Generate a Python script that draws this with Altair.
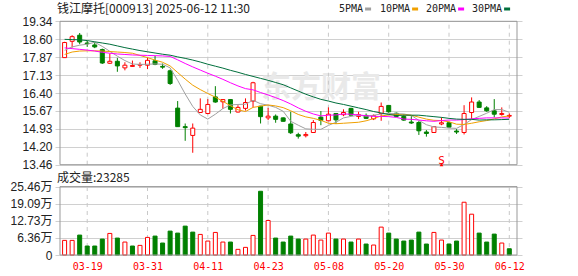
import altair as alt
import pandas as pd

# ---------------- data ----------------
dates = ["03-14","03-17","03-18","03-19","03-20","03-21","03-24","03-25","03-26","03-27","03-28","03-31",
         "04-01","04-02","04-03","04-07","04-08","04-09","04-10","04-11","04-14","04-15","04-16","04-17","04-18",
         "04-21","04-22","04-23","04-24","04-25","04-28","04-29","04-30","05-06","05-07","05-08","05-09",
         "05-12","05-13","05-14","05-15","05-16","05-19","05-20","05-21","05-22","05-23","05-26","05-27",
         "05-28","05-29","05-30","06-03","06-04","06-05","06-06","06-09","06-10","06-11","06-12"]

opens = [17.85, 18.52, 18.77, 18.45, 18.37, 18.18, 17.62, 17.70, 17.43, 17.49,
         17.54, 17.54, 17.72, 17.49, 17.31, 15.78, 15.02, 14.66, 15.60, 15.56,
         16.24, 16.04, 16.13, 15.62, 15.77, 16.07, 15.86, 15.38, 15.45, 15.38,
         15.13, 14.69, 14.65, 14.78, 15.41, 15.26, 15.56, 15.51, 15.77, 15.44,
         15.48, 15.34, 15.56, 15.89, 15.57, 15.44, 15.21, 15.19, 14.80, 14.78,
         15.13, 15.18, 14.84, 14.78, 15.60, 16.03, 15.79, 15.67, 15.52, 15.45]
highs = [18.50, 18.77, 18.86, 18.54, 18.48, 18.22, 18.02, 17.84, 17.66, 17.73,
         17.66, 17.85, 17.92, 17.61, 17.36, 16.07, 15.15, 15.15, 16.18, 16.15,
         16.68, 16.14, 16.14, 15.90, 16.18, 16.86, 15.87, 15.79, 15.52, 15.40,
         15.63, 14.77, 14.80, 15.29, 15.66, 15.81, 15.57, 15.73, 15.79, 15.63,
         15.56, 15.52, 16.01, 15.89, 15.60, 15.52, 15.45, 15.25, 14.88, 15.04,
         15.40, 15.22, 14.92, 15.90, 16.22, 16.11, 15.86, 16.15, 15.81, 15.56]
lows = [17.84, 18.26, 18.40, 18.29, 18.24, 17.59, 17.59, 17.27, 17.33, 17.48,
        17.43, 17.38, 17.54, 17.39, 16.73, 15.02, 14.44, 13.95, 15.59, 15.53,
        16.00, 15.75, 15.56, 15.60, 15.68, 15.81, 15.15, 15.29, 15.18, 15.23,
        14.72, 14.53, 14.58, 14.78, 15.08, 15.25, 15.13, 15.45, 15.48, 15.33,
        15.33, 15.29, 15.26, 15.59, 15.42, 15.26, 15.13, 14.68, 14.61, 14.77,
        15.08, 14.98, 14.72, 14.70, 15.34, 15.79, 15.63, 15.40, 15.47, 15.37]
closes = [18.47, 18.71, 18.49, 18.42, 18.29, 17.63, 17.70, 17.51, 17.54, 17.53,
          17.57, 17.74, 17.57, 17.46, 16.79, 15.02, 14.98, 14.96, 15.73, 15.93,
          16.03, 16.13, 15.73, 15.81, 16.01, 16.82, 15.43, 15.45, 15.32, 15.24,
          14.77, 14.63, 14.70, 15.19, 15.28, 15.53, 15.30, 15.60, 15.49, 15.51,
          15.36, 15.47, 15.85, 15.63, 15.44, 15.29, 15.17, 14.85, 14.74, 15.02,
          15.18, 15.00, 14.80, 15.56, 16.03, 15.81, 15.67, 15.53, 15.56, 15.48]

ma5 = [18.15, 18.29, 18.36, 18.40, 18.48, 18.31, 18.11, 17.91, 17.73, 17.59,
       17.57, 17.58, 17.59, 17.58, 17.43, 16.92, 16.36, 15.85, 15.50, 15.33,
       15.53, 15.76, 15.91, 15.93, 15.94, 16.10, 15.96, 15.90, 15.81, 15.65,
       15.24, 15.08, 14.93, 14.91, 14.91, 15.07, 15.20, 15.38, 15.44, 15.49,
       15.45, 15.49, 15.54, 15.56, 15.55, 15.54, 15.48, 15.28, 15.10, 15.01,
       14.99, 14.96, 14.95, 15.11, 15.31, 15.44, 15.57, 15.72, 15.72, 15.61]
ma10 = [17.98, 18.08, 18.12, 18.13, 18.13, 18.12, 18.10, 18.08, 18.06, 18.03,
        17.94, 17.85, 17.75, 17.66, 17.51, 17.24, 16.97, 16.72, 16.54, 16.38,
        16.23, 16.06, 15.88, 15.71, 15.64, 15.81, 15.86, 15.91, 15.87, 15.80,
        15.67, 15.52, 15.42, 15.36, 15.28, 15.16, 15.14, 15.16, 15.18, 15.20,
        15.26, 15.35, 15.46, 15.50, 15.52, 15.50, 15.49, 15.41, 15.33, 15.28,
        15.27, 15.22, 15.12, 15.11, 15.16, 15.22, 15.27, 15.34, 15.42, 15.46]
ma20 = [18.25, 18.22, 18.19, 18.16, 18.12, 18.07, 18.03, 18.00, 17.98, 17.96,
        17.95, 17.94, 17.93, 17.92, 17.90, 17.76, 17.61, 17.47, 17.34, 17.21,
        17.09, 16.96, 16.82, 16.69, 16.58, 16.53, 16.42, 16.32, 16.21, 16.09,
        15.95, 15.79, 15.65, 15.54, 15.46, 15.49, 15.50, 15.54, 15.53, 15.50,
        15.47, 15.44, 15.44, 15.43, 15.40, 15.33, 15.32, 15.29, 15.26, 15.24,
        15.27, 15.29, 15.29, 15.31, 15.34, 15.36, 15.38, 15.38, 15.38, 15.37]
ma30 = [18.60, 18.59, 18.58, 18.55, 18.50, 18.45, 18.40, 18.33, 18.26, 18.20,
        18.14, 18.09, 18.04, 17.99, 17.95, 17.88, 17.82, 17.75, 17.67, 17.58,
        17.50, 17.42, 17.33, 17.25, 17.16, 17.08, 17.00, 16.92, 16.83, 16.74,
        16.61, 16.48, 16.35, 16.24, 16.14, 16.07, 15.99, 15.93, 15.86, 15.79,
        15.72, 15.64, 15.58, 15.52, 15.48, 15.49, 15.49, 15.49, 15.46, 15.43,
        15.40, 15.36, 15.33, 15.32, 15.32, 15.29, 15.30, 15.30, 15.31, 15.32]

# volume in 万 (10k shares)
volumes = [5.44, 5.44, 7.41, 3.34, 3.34, 5.93, 8.03, 6.30, 4.82, 3.34,
           3.58, 6.55, 7.04, 4.45, 8.89, 8.15, 10.75, 8.52, 7.66, 5.19,
           8.40, 4.82, 4.82, 2.10, 2.84, 7.29, 23.72, 12.85, 6.30, 4.82,
           7.04, 5.93, 5.93, 7.41, 5.56, 8.15, 5.93, 5.93, 4.82, 5.93,
           4.08, 3.71, 10.38, 8.15, 5.93, 5.19, 5.56, 8.52, 4.08, 8.40,
           5.56, 4.08, 5.19, 19.64, 15.19, 8.15, 4.82, 7.78, 4.45, 2.33]
vol_dir = ["up","up","down","down","down","down","up","down","up","down",
           "up","up","down","down","down","down","down","down","up","up",
           "up","up","down","up","up","up","down","up","down","down",
           "down","down","up","up","up","up","down","up","down","up",
           "down","up","up","down","down","down","down","down","down","up",
           "up","down","down","up","up","down","down","down","up","down"]

ma_names = ["5PMA", "10PMA", "20PMA", "30PMA"]
ma_colors = ["#a0a0a0", "#f0a000", "#ff00ff", "#006f3c"]

tick_dates = ["03-19", "03-31", "04-11", "04-23", "05-08", "05-20", "05-30", "06-12"]
price_ticks = [13.46, 14.20, 14.93, 15.67, 16.40, 17.13, 17.87, 18.60, 19.34]
vol_ticks = [0, 6.36, 12.73, 19.09, 25.46]

title_text = "钱江摩托[000913] 2025-06-12 11:30"
vol_title = "成交量:23285"
signal_idx = [dates.index("05-29")]
signal_txt = ["S"]

# ---------------- tables ----------------
n = len(dates)
idx = list(range(n))
df = pd.DataFrame({"i": idx, "open": opens, "high": highs, "low": lows, "close": closes,
                   "vol": volumes, "vdir": vol_dir})
df["dir"] = ["up" if c >= o else "down" for o, c in zip(opens, closes)]

ma_df = pd.concat([pd.DataFrame({"i": idx, "v": vals, "ma": name})
                   for name, vals in zip(ma_names, [ma5, ma10, ma20, ma30])])

tick_idx = [dates.index(d) for d in tick_dates]
pmin, pmax = price_ticks[0], price_ticks[-1]
vmin, vmax = vol_ticks[0], vol_ticks[-1]
XMIN, XMAX = -0.61, n + 0.02

grid_df = pd.DataFrame({"i": tick_idx, "p1": pmin, "p2": pmax, "v1": vmin, "v2": vmax})
border_df = pd.DataFrame({"x1": [XMIN], "x2": [XMAX], "p1": [pmin], "p2": [pmax], "v1": [vmin], "v2": [vmax]})
sig_df = pd.DataFrame({"i": signal_idx, "t": signal_txt, "p": pmin})

RED = "#ff0000"
GREEN = "#008000"
W, H = 467, 234
PRICE_RANGE = [143.7, 0.3]
VOL_RANGE = [234, 165.6]

label_expr = "[" + ",".join("'%s'" % d for d in dates) + "][datum.value]"
x_scale = alt.Scale(domain=[XMIN, XMAX], nice=False, zero=False)
x_axis = alt.Axis(values=tick_idx, labelExpr=label_expr, grid=False, ticks=False, domain=False,
                  labelColor=RED, labelFont="DejaVu Sans Mono", labelFontSize=10, labelPadding=6,
                  labelFlush=False, labelOverlap=False, title=None)


def X(field):
    return alt.X(field, scale=x_scale, axis=x_axis)


p_scale = alt.Scale(domain=[pmin, pmax], range=PRICE_RANGE, nice=False, zero=False)
p_axis = alt.Axis(values=price_ticks, format=".2f", grid=True, gridColor="#d0d0d0", gridWidth=1,
                  ticks=False, domain=False, labelFont="Liberation Sans", labelFontSize=12,
                  labelColor="#222222", labelPadding=3, labelFlush=False, labelOverlap=False,
                  orient="left", title=None)


def PY(field):
    return alt.Y(field, scale=p_scale, axis=p_axis)


v_scale = alt.Scale(domain=[vmin, vmax], range=VOL_RANGE, nice=False, zero=True)
v_axis = alt.Axis(values=vol_ticks, grid=True, gridColor="#d0d0d0", gridWidth=1, ticks=False,
                  domain=False, labelFont="Liberation Sans, Noto Sans CJK SC", labelFontSize=12,
                  labelColor="#222222", labelPadding=3, labelFlush=False, labelOverlap=False,
                  labelExpr="datum.value == 0 ? '0' : format(datum.value, '.2f') + '万'",
                  orient="left", title=None)


def VY(field):
    return alt.Y(field, scale=v_scale, axis=v_axis, stack=None)


dir_fill = alt.Fill("dir:N", scale=alt.Scale(domain=["up", "down"], range=["#ffffff", GREEN]), legend=None)
dir_stroke = alt.Stroke("dir:N", scale=alt.Scale(domain=["up", "down"], range=[RED, GREEN]), legend=None)
vdir_fill = alt.Fill("vdir:N", scale=alt.Scale(domain=["up", "down"], range=["#ffffff", GREEN]), legend=None)
vdir_stroke = alt.Stroke("vdir:N", scale=alt.Scale(domain=["up", "down"], range=[RED, GREEN]), legend=None)

# ---------------- price panel ----------------
watermark = alt.Chart(pd.DataFrame({"t": ["东方财富"]})).mark_text(
    font="Noto Sans CJK SC", fontSize=30, fontWeight="bold", color="#e9e9e9", align="center",
    baseline="middle").encode(text="t:N", x=alt.value(266), y=alt.value(67))

p_vgrid = alt.Chart(grid_df).mark_rule(color="#c8c8c8", strokeDash=[4, 4], strokeWidth=1).encode(
    x=X("i:Q"), y=PY("p1:Q"), y2="p2:Q")

wicks = alt.Chart(df).mark_rule(strokeWidth=1).encode(
    x=X("i:Q"), y=PY("low:Q"), y2="high:Q", stroke=dir_stroke)

bodies = alt.Chart(df).mark_bar(size=4, strokeWidth=1).encode(
    x=X("i:Q"), y=PY("open:Q"), y2="close:Q", fill=dir_fill, stroke=dir_stroke)

ma_lines = alt.Chart(ma_df).mark_line(strokeWidth=1).encode(
    x=X("i:Q"), y=PY("v:Q"),
    color=alt.Color("ma:N", scale=alt.Scale(domain=ma_names, range=ma_colors), legend=None),
    detail="ma:N")

p_border = alt.Chart(border_df).mark_rect(fill="transparent", stroke="#999999", strokeWidth=1).encode(
    x=X("x1:Q"), x2="x2:Q", y=PY("p1:Q"), y2="p2:Q")

sig_text = alt.Chart(sig_df).mark_text(color=RED, font="DejaVu Sans Mono", fontSize=11,
                                       baseline="alphabetic", dy=-1).encode(
    x=X("i:Q"), y=PY("p:Q"), text="t:N")
sig_arrow = alt.Chart(sig_df).mark_point(shape="triangle-up", filled=True, color=RED, size=14,
                                         opacity=1, dy=-11).encode(x=X("i:Q"), y=PY("p:Q"))

price_layer = alt.layer(watermark, p_vgrid, wicks, bodies, ma_lines, p_border, sig_text, sig_arrow)

# ---------------- volume panel ----------------
v_vgrid = alt.Chart(grid_df).mark_rule(color="#c8c8c8", strokeDash=[4, 4], strokeWidth=1).encode(
    x=X("i:Q"), y=VY("v1:Q"), y2="v2:Q")
vol_bars = alt.Chart(df).mark_bar(size=4, strokeWidth=1).encode(
    x=X("i:Q"), y=VY("vol:Q"), fill=vdir_fill, stroke=vdir_stroke)
v_border = alt.Chart(border_df).mark_rect(fill="transparent", stroke="#999999", strokeWidth=1).encode(
    x=X("x1:Q"), x2="x2:Q", y=VY("v1:Q"), y2="v2:Q")
vol_layer = alt.layer(v_vgrid, vol_bars, v_border)

# ---------------- texts & legend ----------------
def txt(s, xpx, ypx, size=12, font="Noto Sans CJK SC", color="#222222"):
    return alt.Chart(pd.DataFrame({"t": [s]})).mark_text(
        font=font, fontSize=size, color=color, align="left", baseline="middle").encode(
        text="t:N", x=alt.value(xpx), y=alt.value(ypx))

texts = [txt(title_text, 2, -12), txt(vol_title, 2, 157)]
leg_x = [284, 325, 371, 417]
for name, col, lx in zip(ma_names, ma_colors, leg_x):
    texts.append(txt(name, lx, -12, size=10, font="DejaVu Sans Mono"))
    sw = lx + len(name) * 6.02 + 2
    texts.append(alt.Chart(pd.DataFrame({"t": [name]})).mark_rule(color=col, strokeWidth=3).encode(
        x=alt.value(sw), x2=alt.value(sw + 6), y=alt.value(-12)))

chart = alt.layer(price_layer, vol_layer, *texts).resolve_scale(y="independent").properties(
    width=W, height=H,
    padding={"left": 55, "top": 21, "right": 56, "bottom": 21},
    autosize=alt.AutoSizeParams(type="none"),
    background="#ffffff",
).configure_view(strokeWidth=0)

chart.save("out.html", embed_options={"renderer": "svg", "actions": False})
